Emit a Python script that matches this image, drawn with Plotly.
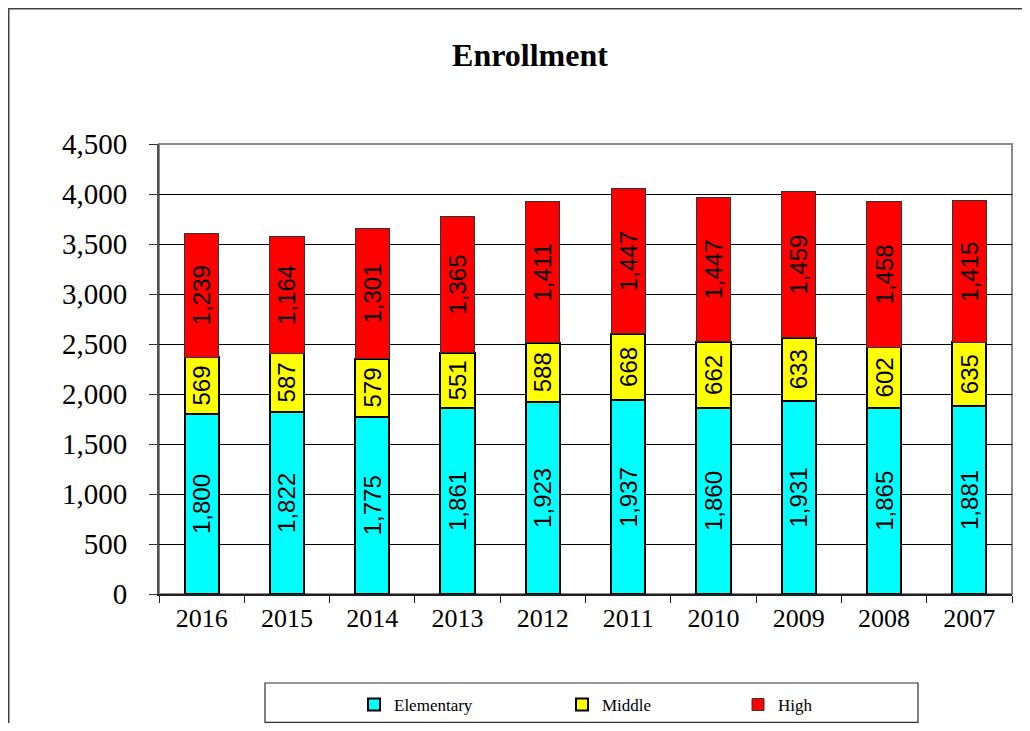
import plotly.graph_objects as go

years = ["2016", "2015", "2014", "2013", "2012", "2011", "2010", "2009", "2008", "2007"]
elementary = [1800, 1822, 1775, 1861, 1923, 1937, 1860, 1931, 1865, 1881]
middle = [569, 587, 579, 551, 588, 668, 662, 633, 602, 635]
high = [1239, 1164, 1301, 1365, 1411, 1447, 1447, 1459, 1458, 1415]

# the page body has an 8px margin on every side; work in figure coordinates
OFF = 8
W, H = 1030 - 2 * OFF, 731 - 2 * OFF
L, R, T, B = 159 - OFF, 1012 - OFF, 144 - OFF, 594 - OFF
pw, ph = R - L, B - T


def px(x):  # page pixel -> paper x
    return (x - OFF - L) / pw


def py(y):  # page pixel -> paper y
    return (B - (y - OFF)) / ph


serif = "Liberation Serif, Times New Roman, serif"
label_font = dict(family="Liberation Sans, Arial, sans-serif", size=24, color="black")

fig = go.Figure()
series = [
    ("Elementary", elementary, "#00FFFF", "black", 2, "legend", 392),
    ("Middle", middle, "#FFFF00", "black", 2, "legend2", 600),
    ("High", high, "#FF0000", "#333333", 1, "legend3", 776),
]
legends = {}
for name, vals, color, lc, lw, leg, text_x in series:
    fig.add_trace(go.Bar(
        name=name, x=years, y=vals, legend=leg,
        marker=dict(color=color, line=dict(color=lc, width=lw)),
        texttemplate="%{y:,}", textposition="inside", insidetextanchor="middle",
        textangle=-90, textfont=label_font, constraintext="none",
    ))
    legends[leg] = dict(orientation="h", x=px(text_x + 2 - 40), xanchor="left",
                        y=py(705), yanchor="middle",
                        font=dict(family=serif, size=17, color="black"),
                        bgcolor="rgba(0,0,0,0)", borderwidth=0)

fig.update_layout(
    width=W, height=H,
    margin=dict(l=L, r=W - R, t=T, b=H - B, autoexpand=False),
    barmode="stack", bargap=0.6,
    paper_bgcolor="white", plot_bgcolor="white",
    title=dict(text="<b>Enrollment</b>", x=px(530), xref="paper", xanchor="center",
               y=1 - (55 - OFF) / H, yanchor="middle",
               font=dict(family=serif, size=32, color="black")),
    showlegend=True,
    xaxis=dict(type="category", showgrid=False, showline=True, linecolor="#202020", linewidth=2,
               ticks="outside", tickson="boundaries", ticklen=7, tickcolor="#202020", tickwidth=1,
               tickfont=dict(family=serif, size=26, color="black")),
    yaxis=dict(range=[0, 4500], dtick=500, tickformat=",", showgrid=True, gridcolor="black", gridwidth=1,
               zeroline=False, showline=True, linecolor="#505050", linewidth=2,
               ticks="outside", ticklen=8, tickcolor="#303030", tickwidth=1, ticklabelstandoff=16,
               tickfont=dict(family=serif, size=29, color="black")),
    shapes=[
        dict(type="rect", xref="paper", yref="paper", x0=0, x1=1, y0=0, y1=1,
             line=dict(color="#8a8a8a", width=2), layer="below"),
        dict(type="rect", xref="paper", yref="paper", x0=px(8.75), x1=px(1045), y0=py(8.75), y1=py(760),
             line=dict(color="#404040", width=1.5)),
        dict(type="rect", xref="paper", yref="paper", x0=px(265), x1=px(918), y0=py(683), y1=py(722.3),
             line=dict(color="#303030", width=1.2)),
    ],
    **legends,
)

fig.write_html("out.html")
